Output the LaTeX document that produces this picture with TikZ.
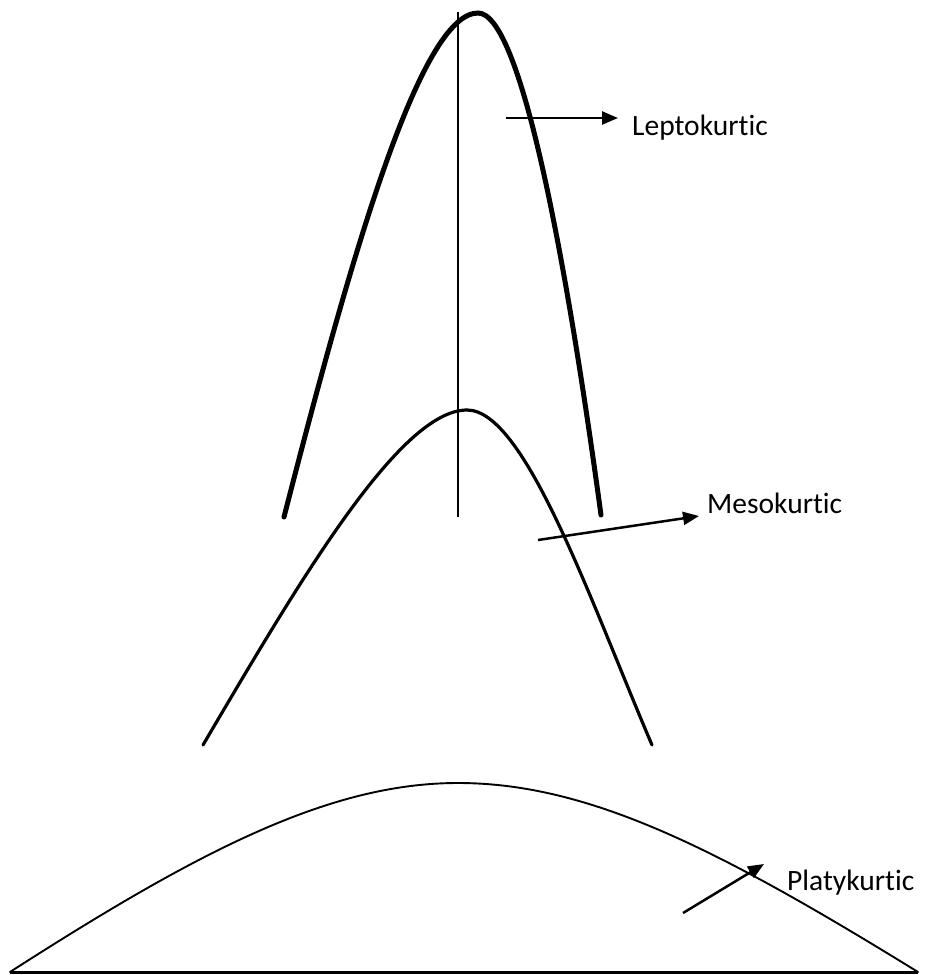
\documentclass[tikz,border=0pt]{standalone}
\usepackage{fontspec}
\setmainfont[Ligatures=NoCommon]{Carlito}
\usetikzlibrary{arrows.meta}
\begin{document}
\begin{tikzpicture}[x=1pt,y=-1pt,
  curve/.style={line cap=round},
  pointer/.style={line width=2.5pt,-{Triangle[length=16pt,width=13pt]}},
  lbl/.style={anchor=base west,inner sep=0pt,font=\fontsize{29.5}{34}\selectfont}]
\useasboundingbox (0,0) rectangle (929,975);
% labels
\node[lbl] (lep) at (632,135) {Leptokurtic};
\node[lbl] (mes) at (707,513) {Mesokurtic};
\node[lbl] (pla) at (787,890) {Platykurtic};
% arrow start and tip points
\coordinate (lepS) at (506,118);
\coordinate (lepT) at (618,118);
\coordinate (mesS) at (538,540);
\coordinate (mesT) at (699,516);
\coordinate (plaS) at (683,913);
\coordinate (plaT) at (764,864);
% axis
\coordinate (axL) at (10,972);
\coordinate (axR) at (918,972);
\coordinate (vT) at (458,12);
\coordinate (vB) at (458,517);
\draw[line width=3pt] (axL) -- (axR);
\draw[line width=1.8pt] (vT) -- (vB);
% leptokurtic
\draw[curve,line width=5pt] (284,517) .. controls (350,260) and (420,13) .. (478,13)
  .. controls (520,13) and (565,250) .. (601,515);
% mesokurtic
\draw[curve,line width=3.2pt] (203,745) .. controls (300,580) and (400,410) .. (467,410)
  .. controls (525,410) and (590,600) .. (652,745);
% platykurtic
\draw[curve,line width=1.9pt] (axL) .. controls (200,850) and (330,783) .. (458,783)
  .. controls (590,783) and (720,850) .. (axR);
% pointers
\draw[pointer] (lepS) -- (lepT);
\draw[pointer] (mesS) -- (mesT);
\draw[pointer] (plaS) -- (plaT);
\end{tikzpicture}
\end{document}
